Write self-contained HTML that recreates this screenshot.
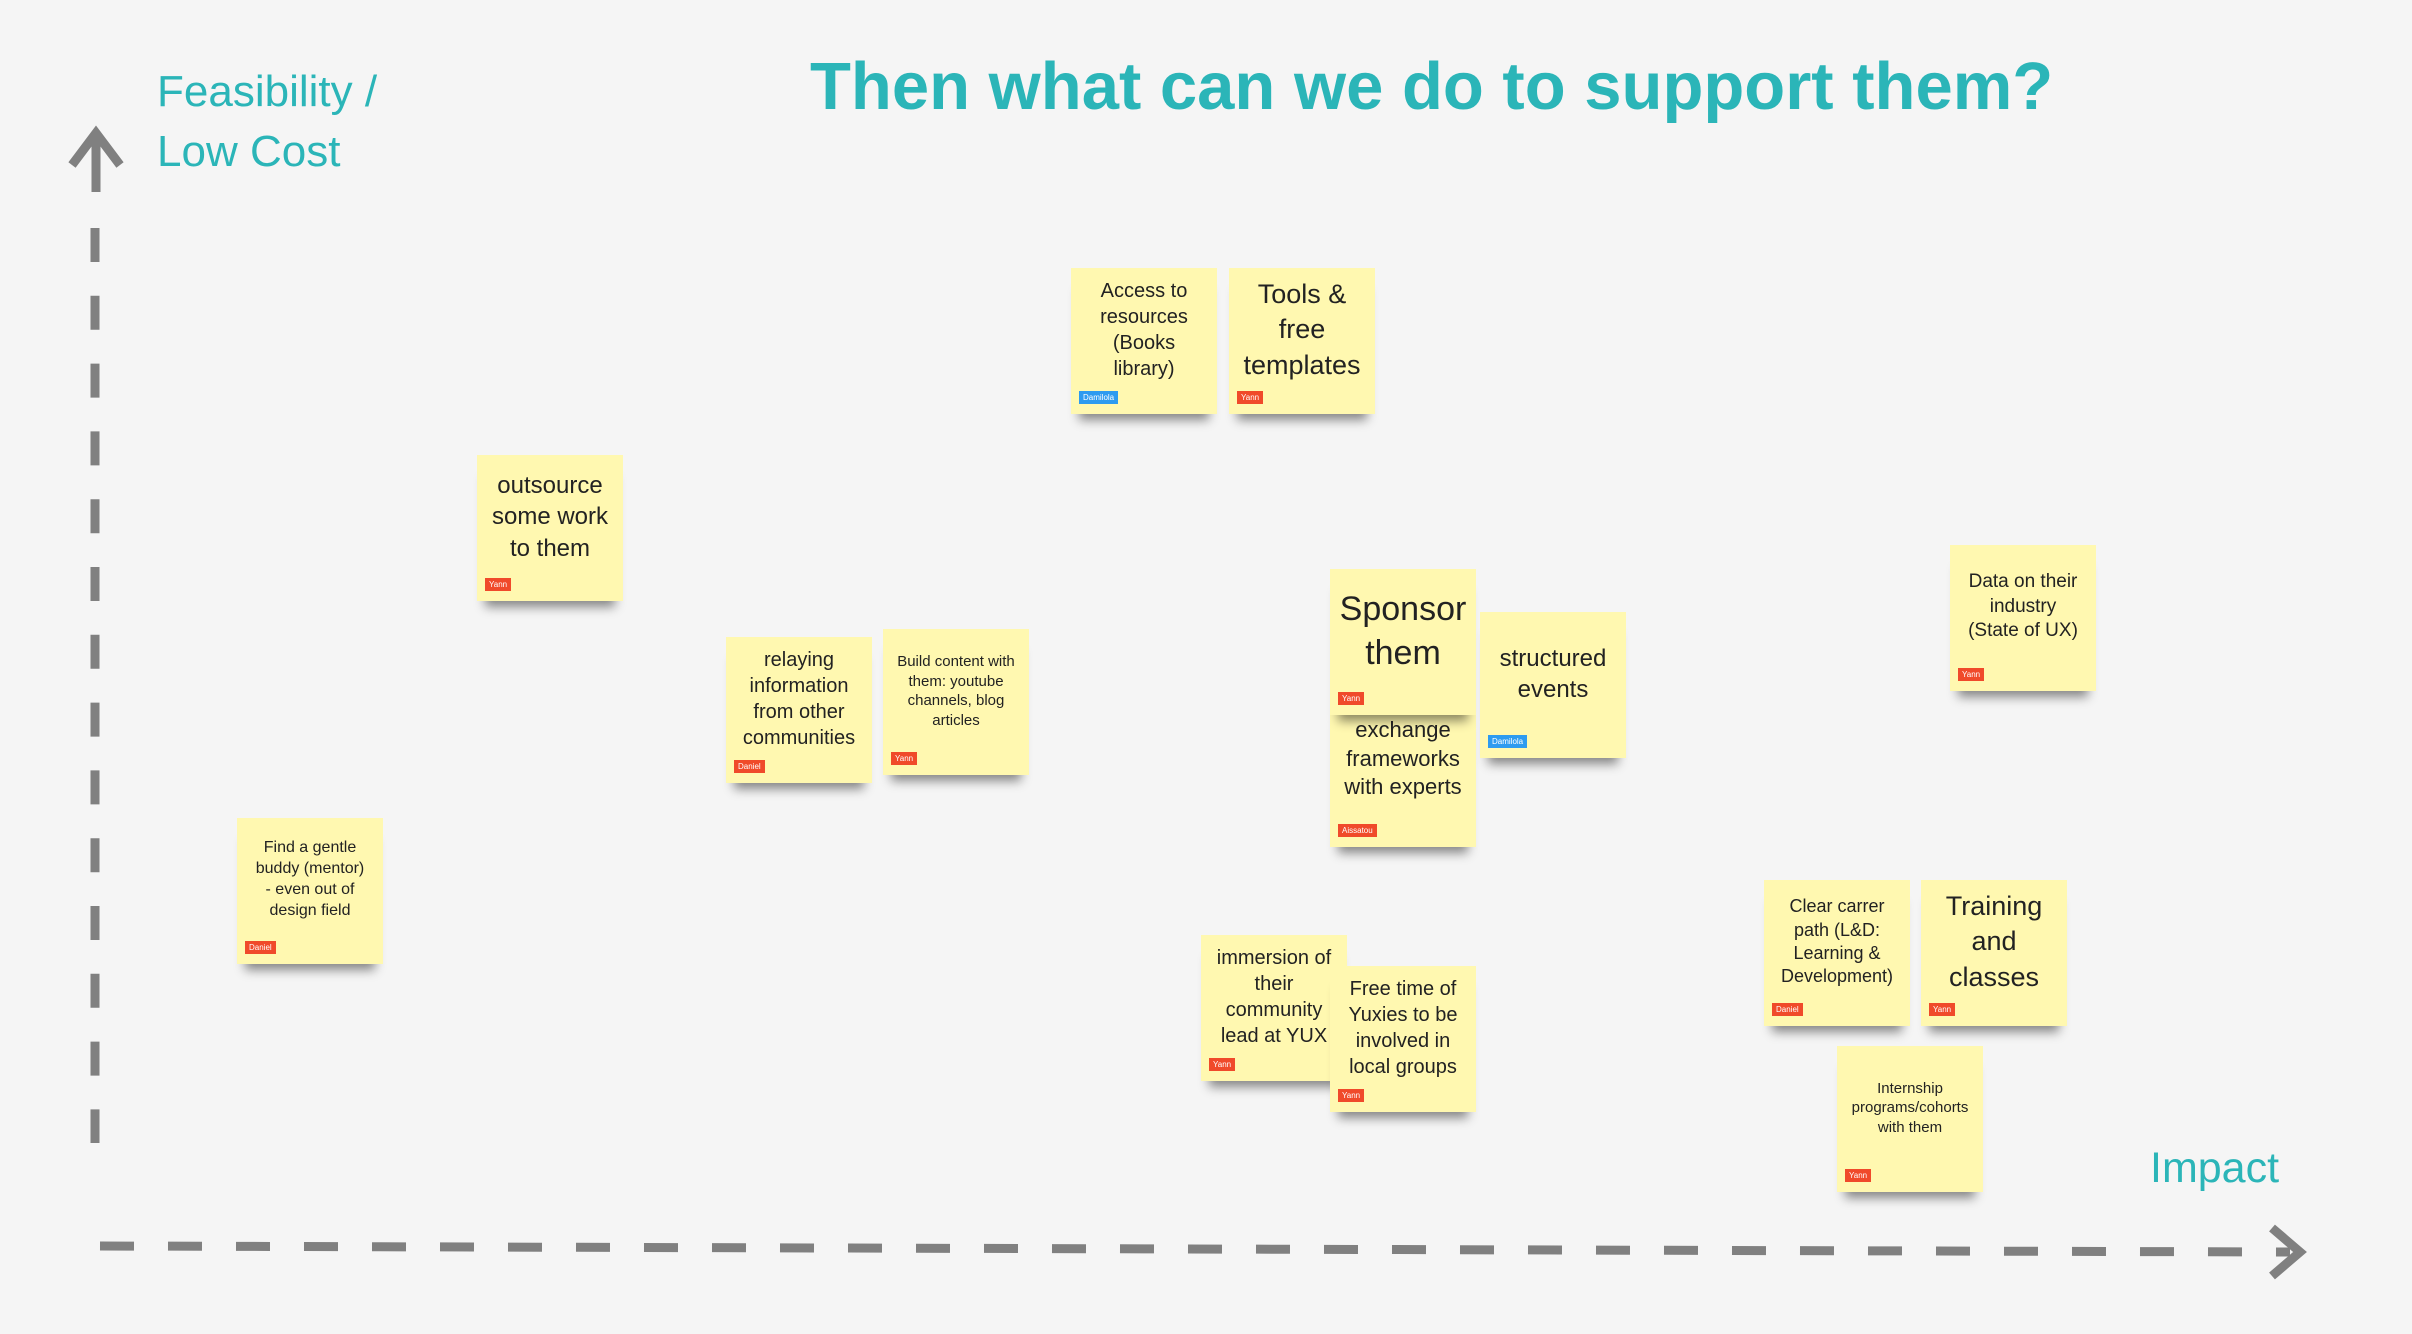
<!DOCTYPE html>
<html><head><meta charset="utf-8"><style>
body{margin:0;width:2412px;height:1334px;background:#f5f5f5;position:relative;overflow:hidden;font-family:"Liberation Sans",sans-serif;}
.t{position:absolute;color:#2bb5b8;white-space:nowrap;}
.n{position:absolute;width:146px;height:146px;background:#fff8b0;box-shadow:0 14px 10px -8px rgba(0,0,0,0.45);display:flex;align-items:center;justify-content:center;text-align:center;color:#222;box-sizing:border-box;padding:0 8px 22px;line-height:1.3;}
.g{position:absolute;left:8px;bottom:10px;height:13px;padding:0 4px;font-size:8px;line-height:13px;color:#fff;background:#f04a2a;}
.b{background:#2d9bf0;}
</style></head><body>
<svg width="2412" height="1334" style="position:absolute;left:0;top:0">
<line x1="95" y1="228" x2="95" y2="1143" stroke="#808080" stroke-width="9" stroke-dasharray="34,33.8"/>
<line x1="96" y1="138" x2="96" y2="192" stroke="#808080" stroke-width="9"/>
<polyline points="72,165 96,133 120,165" fill="none" stroke="#808080" stroke-width="9"/>
<line x1="100" y1="1246" x2="2290" y2="1252" stroke="#808080" stroke-width="9" stroke-dasharray="34,34"/>
<polyline points="2272,1228 2300,1252 2272,1276" fill="none" stroke="#808080" stroke-width="9"/>
</svg>
<div class="t" style="left:157px;top:62px;font-size:44px;line-height:60px;">Feasibility /<br>Low Cost</div>
<div class="t" style="left:810px;top:48px;font-size:67px;font-weight:bold;">Then what can we do to support them?</div>
<div class="t" style="left:2150px;top:1144px;font-size:43px;">Impact</div>

<div class="n" style="left:1071px;top:268px;font-size:20px;padding:0 22px 22px;">Access to resources (Books library)<span class="g b">Damilola</span></div>
<div class="n" style="left:1229px;top:268px;font-size:27px;">Tools &amp; free templates<span class="g">Yann</span></div>
<div class="n" style="left:477px;top:455px;font-size:24px;">outsource some work to them<span class="g">Yann</span></div>
<div class="n" style="left:726px;top:637px;font-size:20px;">relaying information from other communities<span class="g">Daniel</span></div>
<div class="n" style="left:883px;top:629px;font-size:15px;">Build content with them: youtube channels, blog articles<span class="g">Yann</span></div>
<div class="n" style="left:237px;top:818px;font-size:16px;padding:0 14px 22px;">Find a gentle buddy (mentor) - even out of design field<span class="g">Daniel</span></div>
<div class="n" style="left:1330px;top:701px;font-size:22px;padding-bottom:30px;">exchange frameworks with experts<span class="g">Aissatou</span></div>
<div class="n" style="left:1480px;top:612px;font-size:24px;">structured events<span class="g b">Damilola</span></div>
<div class="n" style="left:1330px;top:569px;font-size:34px;">Sponsor them<span class="g">Yann</span></div>
<div class="n" style="left:1950px;top:545px;font-size:19px;padding:0 16px 22px;">Data on their industry (State of UX)<span class="g">Yann</span></div>
<div class="n" style="left:1201px;top:935px;font-size:20px;">immersion of their community lead at YUX<span class="g">Yann</span></div>
<div class="n" style="left:1330px;top:966px;font-size:20px;">Free time of Yuxies to be involved in local groups<span class="g">Yann</span></div>
<div class="n" style="left:1764px;top:880px;font-size:18px;">Clear carrer path (L&amp;D: Learning &amp; Development)<span class="g">Daniel</span></div>
<div class="n" style="left:1921px;top:880px;font-size:27px;">Training and classes<span class="g">Yann</span></div>
<div class="n" style="left:1837px;top:1046px;font-size:15px;">Internship programs/cohorts with them<span class="g">Yann</span></div>
</body></html>
